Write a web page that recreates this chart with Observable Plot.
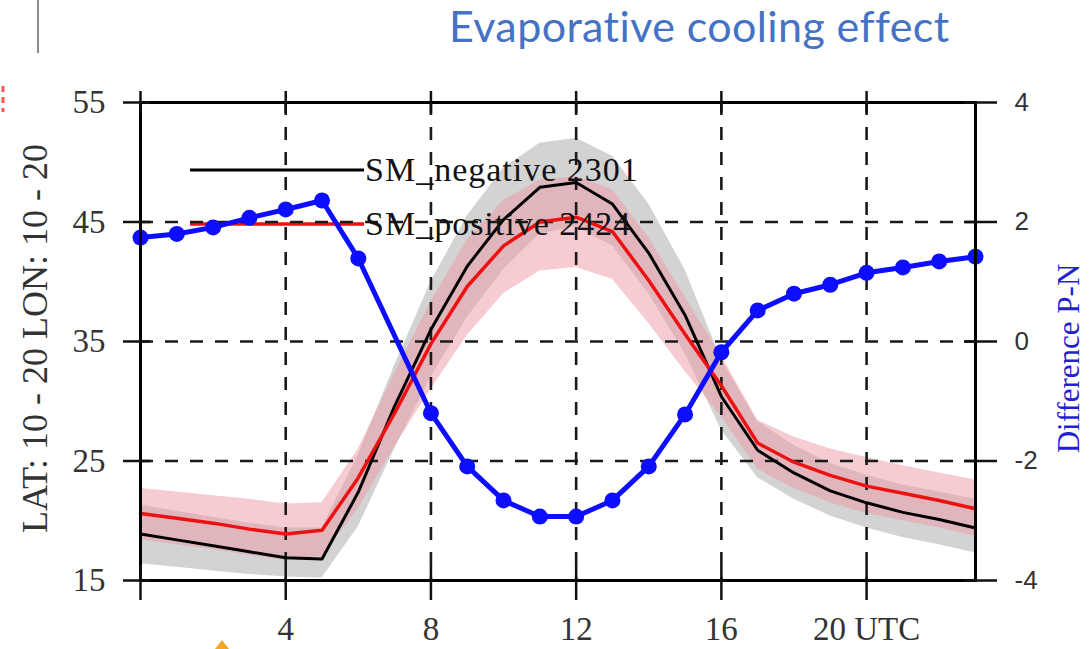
<!DOCTYPE html>
<html>
<head>
<meta charset="utf-8">
<script src="https://cdn.jsdelivr.net/npm/d3@7"></script>
<script src="https://cdn.jsdelivr.net/npm/@observablehq/plot@0.6"></script>
<style>
  body { margin: 0; background: #fff; }
  #wrap { position: relative; width: 1089px; height: 649px; overflow: hidden; background: #fff; }
  #under, #over { position: absolute; left: 0; top: 0; }
  #chart { position: absolute; left: 0; top: 0; }
</style>
</head>
<body>
<div id="wrap">
  <svg id="under" width="1089" height="649"></svg>
  <div id="chart"></div>
  <svg id="over" width="1089" height="649"></svg>
</div>
<script>
// ---------- data ----------
const hours = [0,1,2,3,4,5,6,7,8,9,10,11,12,13,14,15,16,17,18,19,20,21,22,23];

// SM negative (black line, grey band)
const negMean = [18.9,18.4,17.9,17.4,16.9,16.8,22.4,29.6,36.0,41.3,45.2,47.9,48.3,46.5,42.4,37.2,30.4,25.9,24.0,22.5,21.5,20.7,20.1,19.4];
const negLo   = [16.4,16.1,15.8,15.5,15.3,15.2,19.5,26.0,32.0,37.0,41.0,44.0,44.6,43.0,39.0,34.0,27.6,23.6,21.8,20.4,19.4,18.6,18.0,17.3];
const negHi   = [21.3,20.8,20.3,19.8,19.4,19.4,25.5,33.0,40.0,45.5,49.5,51.6,52.0,50.5,46.5,41.0,33.5,28.3,26.3,24.8,23.8,23.0,22.4,21.8];

// SM positive (red line, pink band)
const posMean = [20.6,20.2,19.8,19.3,18.9,19.2,23.6,29.0,34.8,39.6,43.0,45.0,45.4,44.2,40.1,35.6,31.3,26.5,24.9,23.8,22.9,22.3,21.7,21.0];
const posLo   = [18.4,18.0,17.6,17.1,16.7,17.0,21.0,26.2,31.0,35.5,39.0,40.9,41.2,40.2,36.5,32.5,28.7,24.3,22.7,21.5,20.6,20.0,19.4,18.7];
const posHi   = [22.7,22.4,22.1,21.8,21.4,21.5,26.0,32.3,38.3,43.5,46.8,48.5,48.8,47.7,43.7,38.7,33.8,28.4,27.0,26.0,25.3,24.6,24.0,23.4];

// Difference P-N (blue, right axis) - no marker at 7 UTC
const diffHours  = [0,1,2,3,4,5,6,8,9,10,11,12,13,14,15,16,17,18,19,20,21,22,23];
const diffValues = [1.74,1.80,1.91,2.07,2.21,2.36,1.39,-1.20,-2.09,-2.66,-2.93,-2.93,-2.66,-2.09,-1.22,-0.18,0.52,0.80,0.95,1.15,1.24,1.34,1.42];

// axes
const leftTicks  = [15,25,35,45,55];
const rightTicks = [-4,-2,0,2,4];
const xTicks     = [0,4,8,12,16,20];
const xLabelTicks = [4,8,12,16,20];
const xLabels     = ["4","8","12","16","20 UTC"];
const gridX = [4,8,12,16,20];
const gridY = [25,35,45];

const legendLabels = ["SM_negative 2301","SM_positive 2424"];
const titleText = "Evaporative cooling effect";
const yLabel = "LAT: 10 - 20 LON: 10 - 20";
const y2Label = "Difference P-N";

// ---------- build ----------
const right2left = d3.scaleLinear([-4, 4], [15, 55]);
const neg = hours.map((h, i) => ({h, m: negMean[i], lo: negLo[i], hi: negHi[i]}));
const pos = hours.map((h, i) => ({h, m: posMean[i], lo: posLo[i], hi: posHi[i]}));
const diff = diffHours.map((h, i) => ({h, v: right2left(diffValues[i])}));

const BLUE = "#0d0dff";
const serif = "Liberation Serif";
const dash = {stroke: "#1a1a1a", strokeWidth: 2.6, strokeDasharray: "13,12"};
const none = () => "";

const chart = Plot.plot({
  width: 1089,
  height: 649,
  marginLeft: 140,
  marginRight: 114,
  marginTop: 102,
  marginBottom: 69,
  x: {domain: [0, 23]},
  y: {domain: [15, 55]},
  style: {background: "transparent", fontFamily: serif, overflow: "visible"},
  marks: [
    Plot.areaY(neg, {x: "h", y1: "lo", y2: "hi", fill: "#d3d3d3"}),
    Plot.areaY(pos, {x: "h", y1: "lo", y2: "hi", fill: "#ee9aa5", fillOpacity: 0.5}),
    Plot.ruleX(gridX, dash),
    Plot.ruleY(gridY, dash),
    Plot.line(neg, {x: "h", y: "m", stroke: "#000", strokeWidth: 3}),
    Plot.line(pos, {x: "h", y: "m", stroke: "#ee1111", strokeWidth: 3.5}),
    Plot.line(diff, {x: "h", y: "v", stroke: BLUE, strokeWidth: 5}),
    Plot.dot(diff, {x: "h", y: "v", r: 8, fill: BLUE}),
    Plot.frame({stroke: "#000", strokeWidth: 3}),
    // left axis: ticks crossing the frame, then labels
    Plot.axisY(leftTicks, {anchor: "left", tickSize: 27, dx: 10, strokeWidth: 2.5, stroke: "#111", tickFormat: none, label: null}),
    Plot.axisY(leftTicks, {anchor: "left", tickSize: 0, tickPadding: 35, fontSize: 33, fill: "#333", fontFamily: serif, tickFormat: d => String(d), label: null}),
    // right axis
    Plot.axisY(rightTicks.map(right2left), {anchor: "right", tickSize: 33, dx: -12, strokeWidth: 2.5, stroke: "#111", tickFormat: none, label: null}),
    Plot.axisY(rightTicks.map(right2left), {anchor: "right", tickSize: 0, tickPadding: 39, fontSize: 26, fill: "#333",
      fontFamily: "Liberation Sans", tickFormat: d => String(Math.round(right2left.invert(d))), label: null}),
    // bottom / top
    Plot.axisX(xTicks, {anchor: "bottom", tickSize: 35, dy: -15, strokeWidth: 2.5, stroke: "#111", tickFormat: none, label: null}),
    Plot.axisX(xTicks, {anchor: "top", tickSize: 22, dy: 10, strokeWidth: 2.5, stroke: "#111", tickFormat: none, label: null}),
    Plot.axisX(xLabelTicks, {anchor: "bottom", tickSize: 0, tickPadding: 36, fontSize: 33, fill: "#333", fontFamily: serif,
      tickFormat: d => xLabels[xLabelTicks.indexOf(d)], label: null}),
    // axis titles
    Plot.text([yLabel], {frameAnchor: "left", textAnchor: "middle", rotate: -90, dx: -105, dy: -3, fontSize: 36, fill: "#333", fontFamily: serif}),
    Plot.text([y2Label], {frameAnchor: "right", textAnchor: "middle", rotate: -90, dx: 94, dy: 17, fontSize: 31, fill: "#1f1fd6", fontFamily: serif})
  ]
});
document.getElementById("chart").appendChild(chart);

// ---------- legend & page decorations ----------
const ns = "http://www.w3.org/2000/svg";
function el(parent, tag, attrs, text) {
  const e = document.createElementNS(ns, tag);
  for (const k in attrs) e.setAttribute(k, attrs[k]);
  if (text != null) e.textContent = text;
  parent.appendChild(e);
  return e;
}
const under = document.getElementById("under");
const over = document.getElementById("over");
const legendColors = ["#000", "#ee1111"];
const legendRows = [170, 224];
legendLabels.forEach((lab, i) => {
  el(under, "line", {x1: 190, x2: 364, y1: legendRows[i], y2: legendRows[i], stroke: legendColors[i], "stroke-width": i ? 3.5 : 3});
  el(over, "text", {x: 365, y: legendRows[i] + 11, "font-family": serif, "font-size": 34, fill: "#111", "letter-spacing": 1}, lab);
});
el(over, "text", {x: 449, y: 42, "font-family": "Lato", "font-size": 43, fill: "#4472c4", "letter-spacing": 0.4}, titleText);
el(over, "line", {x1: 38, x2: 38, y1: 0, y2: 53, stroke: "#8a8a8a", "stroke-width": 2});
el(over, "line", {x1: 3, x2: 3, y1: 86, y2: 112, stroke: "#ff5555", "stroke-width": 3, "stroke-dasharray": "6,5"});
el(over, "polygon", {points: "215,649 222,640 229,649", fill: "#f5a623"});
</script>
</body>
</html>
